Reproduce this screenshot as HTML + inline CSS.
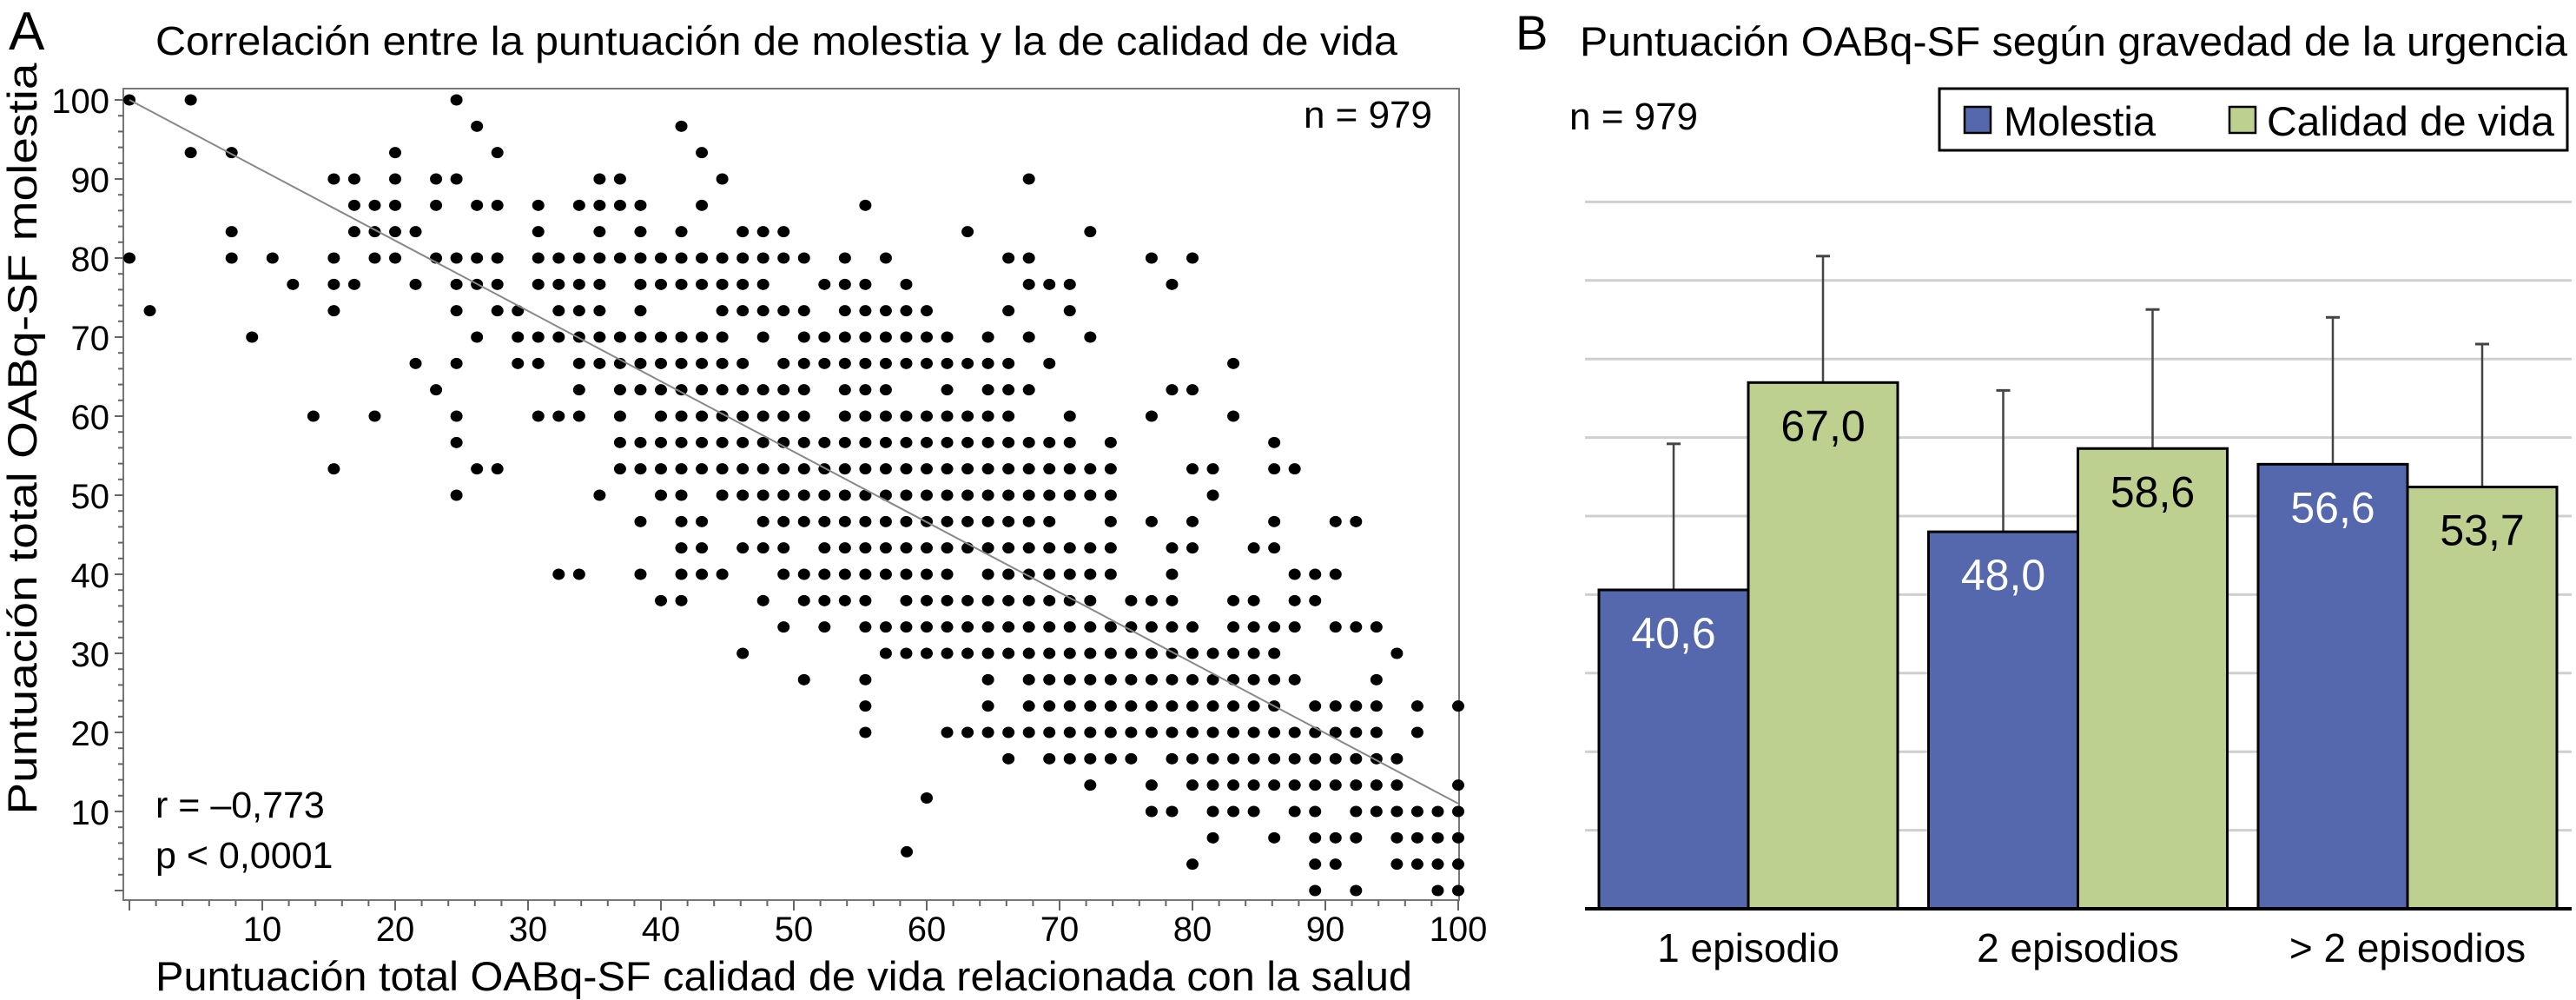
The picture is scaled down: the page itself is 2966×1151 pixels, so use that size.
<!DOCTYPE html>
<html><head><meta charset="utf-8"><style>
html,body{margin:0;padding:0;background:#fff;}
svg{display:block;font-family:"Liberation Sans",Arial,sans-serif;}
</style></head><body>
<svg id="chart" width="2966" height="1151" viewBox="0 0 2966 1151">
  <g id="panelA">
    <text x="10" y="57" font-size="62">A</text>
    <text x="179" y="63" font-size="46" textLength="1430" lengthAdjust="spacingAndGlyphs">Correlación entre la puntuación de molestia y la de calidad de vida</text>
    <rect x="142" y="102" width="1538" height="934" fill="none" stroke="#777" stroke-width="2"/>
    <g id="aTicks"></g>
    <g id="aDots"></g>
    <line id="fitLine" stroke="#888" stroke-width="2"/>
    <text x="1649" y="147" font-size="44" text-anchor="end">n = 979</text>
    <text x="179" y="941" font-size="43">r = –0,773</text>
    <text x="179" y="999" font-size="43">p &lt; 0,0001</text>
    <text x="179" y="1140" font-size="47" textLength="1447" lengthAdjust="spacingAndGlyphs">Puntuación total OABq-SF calidad de vida relacionada con la salud</text>
    <text transform="translate(42,505) rotate(-90)" text-anchor="middle" font-size="47" textLength="865" lengthAdjust="spacingAndGlyphs">Puntuación total OABq-SF molestia</text>
  </g>
  <g id="panelB">
    <text x="1745" y="57" font-size="56">B</text>
    <text x="1819" y="64" font-size="47" textLength="1137" lengthAdjust="spacingAndGlyphs">Puntuación OABq-SF según gravedad de la urgencia</text>
    <text x="1807" y="149" font-size="44">n = 979</text>
    <g>
      <rect x="2233" y="102" width="723" height="71" fill="#fff" stroke="#000" stroke-width="3"/>
      <rect x="2262" y="123" width="30" height="30" fill="#5568ad" stroke="#000" stroke-width="2.5"/>
      <text x="2307" y="156" font-size="47">Molestia</text>
      <rect x="2567" y="123" width="30" height="30" fill="#bdd08f" stroke="#000" stroke-width="2.5"/>
      <text x="2610" y="156" font-size="47" textLength="331" lengthAdjust="spacingAndGlyphs">Calidad de vida</text>
    </g>
    <g id="bGrid"></g>
    <g id="bBars"></g>
    <line x1="1825" y1="1046" x2="2961" y2="1046" stroke="#000" stroke-width="4"/>
    <g id="bCats"></g>
  </g>
</svg>
<script>
// ---------- Panel A data ----------
const rowLevels = [30,29,28,27,26,25,24,23,22,21,20,19,18,17,16,15,14,13,12,11,10,9,8,7,6,5,4,3,2,1,0];
const rowItems = [
 [0,3,16],
 [17,27],
 [3,5,13,18,28],
 [10,11,13,15,16,23,24,29,44],
 [11,12,13,15,17,18,20,22,23,24,25,28,36],
 [5,11,12,13,14,20,23,25,27,30,31,32,41,47],
 [0,5,7,10,12,13,15,16,17,18,20,21,22,23,24,25,26,27,28,29,30,31,32,33,35,37,43,44,50,52],
 [8,10,11,14,16,17,18,20,21,22,23,25,26,27,28,29,30,31,34,35,36,38,44,45,46,51],
 [1,10,16,18,19,21,22,23,25,29,30,31,32,33,35,36,37,38,39,43,46],
 [6,17,19,20,21,22,23,24,25,26,27,28,29,31,33,34,35,36,37,38,39,40,42,44,47],
 [14,16,19,20,22,23,24,25,26,27,28,29,30,32,33,34,35,36,37,38,39,40,41,42,43,45,54],
 [15,22,24,25,26,27,28,29,30,31,32,33,35,36,37,40,42,43,44,51,52],
 [9,12,16,20,21,22,24,26,27,28,29,30,31,32,33,35,36,37,38,39,40,41,42,43,46,50,54],
 [16,24,25,26,27,28,29,30,31,32,33,34,35,36,37,38,39,40,41,42,43,44,45,46,48,56],
 [10,17,18,24,25,26,27,28,29,30,31,32,33,34,35,36,37,38,39,40,41,42,43,44,45,46,47,48,52,53,56,57],
 [16,23,26,27,29,30,31,32,33,34,35,36,37,38,39,40,41,42,43,44,45,46,47,48,53],
 [25,27,28,31,32,33,34,35,36,37,38,39,40,41,42,43,44,45,48,50,52,56,59,60],
 [27,28,30,31,32,34,35,36,37,38,39,40,41,42,43,44,45,46,47,48,51,52,55,56],
 [21,22,25,27,28,29,32,33,34,35,36,37,38,39,40,42,43,44,45,46,47,48,51,57,58,59],
 [26,27,31,33,34,35,36,38,39,40,41,42,43,44,45,46,47,49,50,51,54,55,57,58],
 [32,34,36,37,38,39,40,41,42,43,44,45,46,47,48,49,50,51,52,54,55,56,57,59,60,61],
 [30,37,38,39,40,41,42,43,44,45,46,47,48,49,50,51,52,53,54,55,56,62],
 [33,36,42,44,45,46,47,48,49,50,51,52,53,54,55,56,57,61],
 [36,42,44,45,46,47,48,49,50,51,52,53,54,55,56,58,59,60,61,63,65],
 [36,40,41,42,43,44,45,46,47,48,49,50,51,52,53,54,55,56,57,58,59,60,61,63],
 [43,45,46,47,48,49,51,52,53,54,55,56,57,58,59,60,61,62],
 [47,50,52,53,54,55,56,57,58,59,60,61,62,65],
 [50,51,53,54,55,57,58,60,61,62,63,64,65],
 [53,56,58,59,60,62,63,64,65],
 [52,58,59,62,63,64,65],
 [58,60,64,65]
];
const extraQol = [60.0, 58.5];
const extraMolestia = [11.7, 4.9];
const fitIntercept = 100;
const fitSlope = -0.89;
const xTickLabels = [10,20,30,40,50,60,70,80,90,100];
const yTickLabels = [10,20,30,40,50,60,70,80,90,100];

// ---------- Panel B data ----------
const categories = ["1 episodio","2 episodios","> 2 episodios"];
const molestiaMeans = [40.6, 48.0, 56.6];
const calidadMeans = [67.0, 58.6, 53.7];
const molestiaSD = [18.6, 18.0, 18.7];
const calidadSD = [16.1, 17.7, 18.2];
const molestiaLabels = ["40,6","48,0","56,6"];
const calidadLabels = ["67,0","58,6","53,7"];
const gridValues = [10,20,30,40,50,60,70,80,90];

const NS = "http://www.w3.org/2000/svg";
function mk(tag, attrs, parent){const e=document.createElementNS(NS,tag);for(const k in attrs)e.setAttribute(k,attrs[k]);parent.appendChild(e);return e;}

const ax = v => 149 + v*15.3;
const ay = v => 1025 - v*9.1;
const ticksG = document.getElementById('aTicks');
for(let v=0; v<=100; v+=2){
  const major = v%10===0;
  const t = mk('line',{x1:ax(v),y1:1036,x2:ax(v),y2:1036+(major?12:7),stroke:'#666','stroke-width':2},ticksG);
  
  
  const u = mk('line',{x1:142,y1:ay(v),x2:142-(major?10:6),y2:ay(v),stroke:'#666','stroke-width':2},ticksG);
  
  
}
xTickLabels.forEach(v=>{
  const t = mk('text',{x:ax(v),y:1083,'font-size':40,'text-anchor':'middle'},ticksG);
  t.textContent = v;
  
  
});
yTickLabels.forEach(v=>{
  const t = mk('text',{x:126,y:ay(v)+15,'font-size':40,'text-anchor':'end'},ticksG);
  t.textContent = v;
  
  
});
const dotsG = document.getElementById('aDots');
rowLevels.forEach((j,i)=>{
  const yv = j*10/3;
  rowItems[i].forEach(k=>{
    const xv = k*100/65;
    const d = mk('ellipse',{cx:ax(xv),cy:ay(yv),rx:7,ry:6.5,fill:'#000'},dotsG);
    
    
  });
});
extraQol.forEach((xv,i)=>{
  const d = mk('ellipse',{cx:ax(xv),cy:ay(extraMolestia[i]),rx:7,ry:6.5,fill:'#000'},dotsG);
  
  
});
const fl = document.getElementById('fitLine');
fl.setAttribute('x1',ax(0)); fl.setAttribute('y1',ay(fitIntercept));
fl.setAttribute('x2',ax(100)); fl.setAttribute('y2',ay(fitIntercept+fitSlope*100));

const by = v => 1046 - v*9.04;
const gridG = document.getElementById('bGrid');
gridValues.forEach(v=>{
  const g = mk('line',{x1:1825,y1:by(v),x2:2961,y2:by(v),stroke:'#cfcfcf','stroke-width':3},gridG);
  
  
});
const barsG = document.getElementById('bBars');
const catsG = document.getElementById('bCats');
const bw = 172;
categories.forEach((c,i)=>{
  const cx = 2013 + i*379.5;
  const series = [
    {v:molestiaMeans[i], sd:molestiaSD[i], lab:molestiaLabels[i], x:cx-bw, fill:'#5568ad', tc:'#fff', name:'bar-molestia'},
    {v:calidadMeans[i], sd:calidadSD[i], lab:calidadLabels[i], x:cx, fill:'#bdd08f', tc:'#000', name:'bar-calidad'}
  ];
  series.forEach(s=>{
    const mx = s.x + bw/2;
    const e = mk('line',{x1:mx,y1:by(s.v),x2:mx,y2:by(s.v+s.sd),stroke:'#444','stroke-width':2.5},barsG);
    
    
    const cap = mk('line',{x1:mx-8,y1:by(s.v+s.sd),x2:mx+8,y2:by(s.v+s.sd),stroke:'#444','stroke-width':3},barsG);
    
    
    const r = mk('rect',{x:s.x,y:by(s.v),width:bw,height:by(0)-by(s.v),fill:s.fill,stroke:'#000','stroke-width':3},barsG);
    
    
    const t = mk('text',{x:mx,y:by(s.v)+67,'font-size':50,'text-anchor':'middle',fill:s.tc},barsG);
    t.textContent = s.lab;
    
    
  });
  const ct = mk('text',{x:cx,y:1107,'font-size':46,'text-anchor':'middle'},catsG);
  ct.textContent = c;
  
  
});
</script>
</body></html>
